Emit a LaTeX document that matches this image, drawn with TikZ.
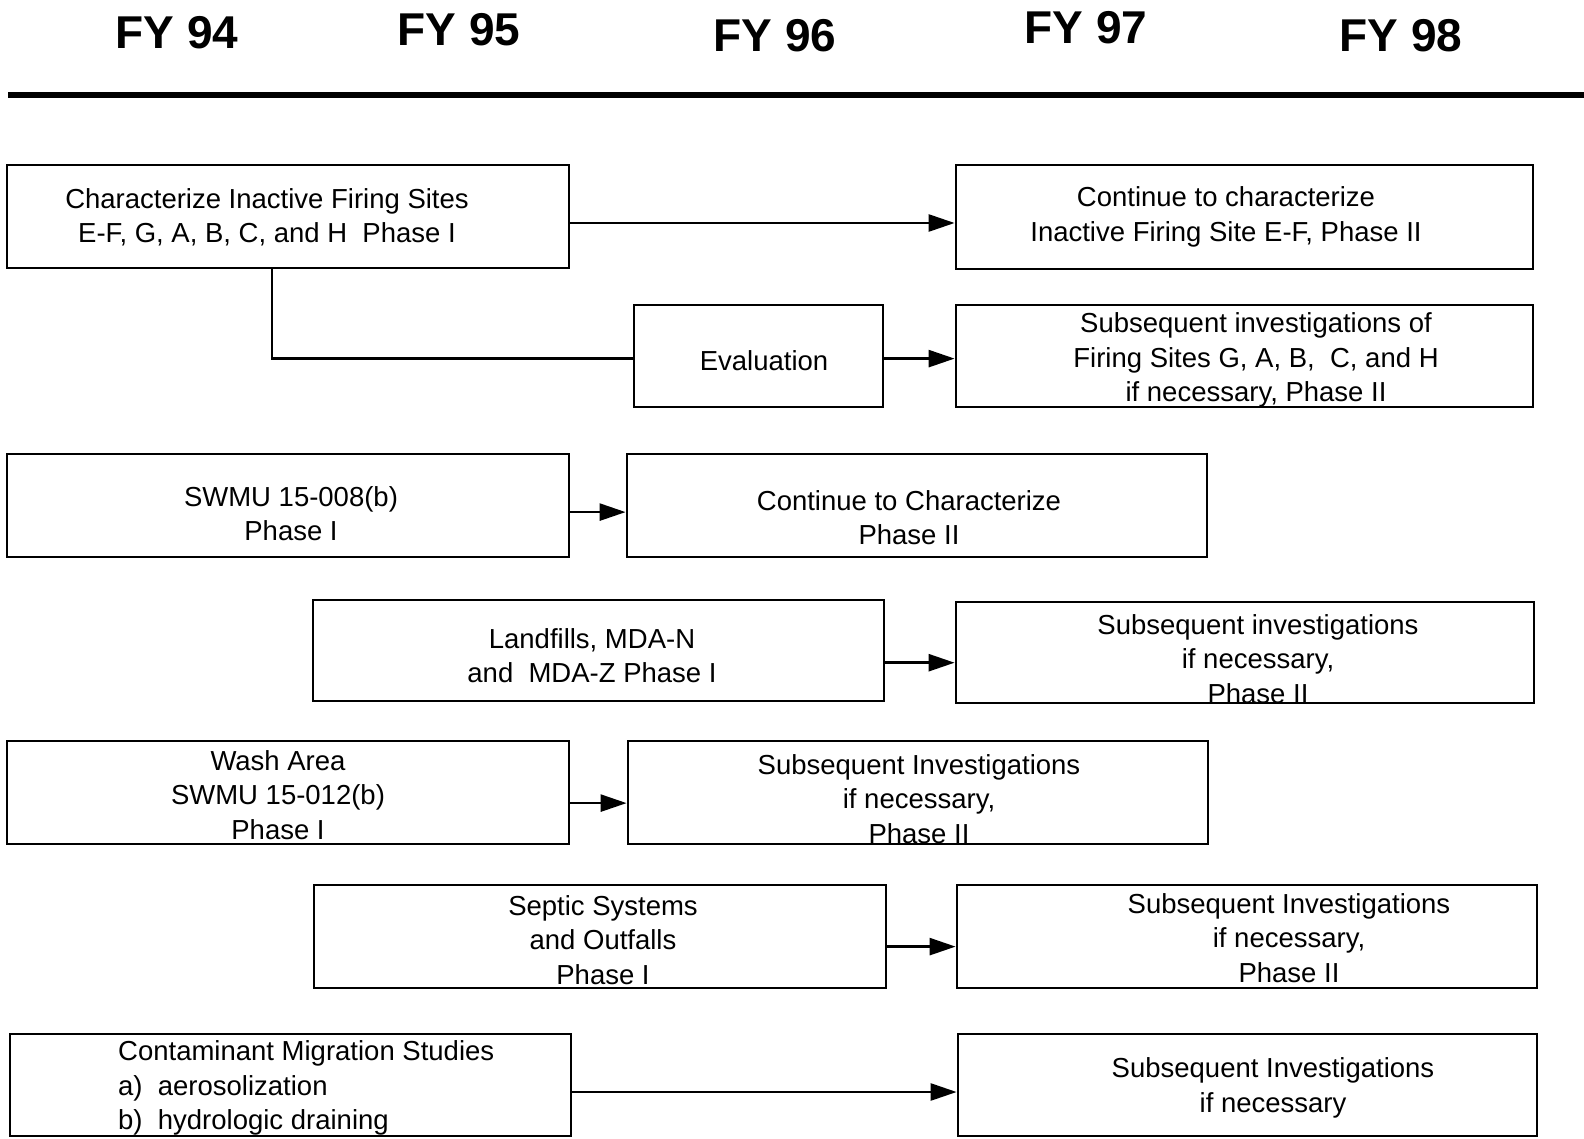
\documentclass[tikz,border=0pt]{standalone}
\usepackage{fontspec}
\setmainfont{Liberation Sans}
\usetikzlibrary{arrows.meta,fit}
\begin{document}
\begin{tikzpicture}[x=1pt,y=-1pt,
  box/.style={draw, line width=2.8pt, inner sep=0pt},
  txt/.style={align=center, inner sep=0pt, yshift=-2pt, font=\fontsize{27.5}{34.3}\selectfont},
  yr/.style={inner sep=0pt, font=\bfseries\fontsize{46}{50}\selectfont},
  link/.style={line width=2.6pt},
  flow/.style={link, -{Triangle[length=26pt,width=17pt]}}]
\useasboundingbox (0,0) rectangle (1584,1139);

% fiscal-year header and rule
\node[yr] (fy94) at (177,33) {FY 94};
\node[yr] (fy95) at (459,30) {FY 95};
\node[yr] (fy96) at (775,36) {FY 96};
\node[yr] (fy97) at (1086,28) {FY 97};
\node[yr] (fy98) at (1401,36) {FY 98};
\draw[line width=6pt] (8,95) -- (1584,95);

% boxes
\node[box, fit={(7,165) (569,268)}]     (b1)  {};
\node[box, fit={(956,165) (1533,269)}]  (b2)  {};
\node[box, fit={(634,305) (883,407)}]   (b3)  {};
\node[box, fit={(956,305) (1533,407)}]  (b4)  {};
\node[box, fit={(7,454) (569,557)}]     (b5)  {};
\node[box, fit={(627,454) (1207,557)}]  (b6)  {};
\node[box, fit={(313,600) (884,701)}]   (b7)  {};
\node[box, fit={(956,602) (1534,703)}]  (b8)  {};
\node[box, fit={(7,741) (569,844)}]     (b9)  {};
\node[box, fit={(628,741) (1208,844)}]  (b10) {};
\node[box, fit={(314,885) (886,988)}]   (b11) {};
\node[box, fit={(957,885) (1537,988)}]  (b12) {};
\node[box, fit={(10,1034) (571,1136)}]  (b13) {};
\node[box, fit={(958,1034) (1537,1136)}] (b14) {};

% box texts
\node[txt] (t1) at (267,215) {Characterize Inactive Firing Sites\\E-F, G, A, B, C, and H~ Phase I};
\node[txt] (t2) at (1226,215) {Continue to characterize\\Inactive Firing Site E-F, Phase II};
\node[txt] (t3) at (764,359) {Evaluation};
\node[txt] (t4) at (1256,358) {Subsequent investigations of\\Firing Sites G, A, B,~ C, and H\\if necessary, Phase II};
\node[txt] (t5) at (291,512) {SWMU 15-008(b)\\Phase I};
\node[txt] (t6) at (909,516) {Continue to Characterize\\Phase II};
\node[txt] (t7) at (592,654) {Landfills, MDA-N\\and~ MDA-Z Phase I};
\node[txt] (t8) at (1258,657) {Subsequent investigations\\if necessary,\\Phase II};
\node[txt] (t9) at (278,793) {Wash Area\\SWMU 15-012(b)\\Phase I};
\node[txt] (t10) at (919,797) {Subsequent Investigations\\if necessary,\\Phase II};
\node[txt] (t11) at (603,938) {Septic Systems\\and Outfalls\\Phase I};
\node[txt] (t12) at (1289,936) {Subsequent Investigations\\if necessary,\\Phase II};
\node[txt, align=left, anchor=west] (t13) at (118,1086) {Contaminant Migration Studies\\a)~ aerosolization\\b)~ hydrologic draining};
\node[txt] (t14) at (1273,1086) {Subsequent Investigations\\if necessary};

% connectors
\coordinate (s1) at ([yshift=-6.5pt]b1.east);
\draw[flow] (s1) -- (s1 -| b2.west);

\coordinate (e1) at ([xshift=-16pt]b1.south);
\coordinate (e2) at ([yshift=-2.6pt]b3.west);
\draw[link] (e1) |- (e2);

\coordinate (s3) at ([yshift=-2.6pt]b3.east);
\draw[flow] (s3) -- (s3 -| b4.west);

\coordinate (s5) at ([yshift=-6.6pt]b5.east);
\draw[flow] (s5) -- (s5 -| b6.west);

\coordinate (s7) at ([yshift=-12.2pt]b7.east);
\draw[flow] (s7) -- (s7 -| b8.west);

\coordinate (s9) at ([yshift=-10.6pt]b9.east);
\draw[flow] (s9) -- (s9 -| b10.west);

\coordinate (s11) at ([yshift=-10.1pt]b11.east);
\draw[flow] (s11) -- (s11 -| b12.west);

\coordinate (s13) at ([yshift=-7pt]b13.east);
\draw[flow] (s13) -- (s13 -| b14.west);
\end{tikzpicture}
\end{document}
